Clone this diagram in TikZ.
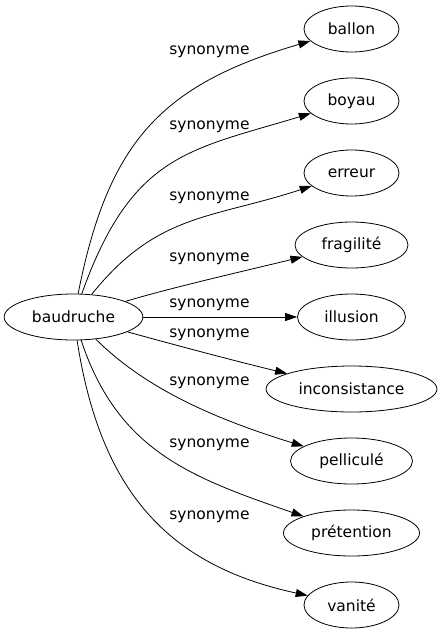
\documentclass[tikz,border=0pt]{standalone}
\usepackage{fontspec}
\setmainfont{DejaVu Sans}
\usetikzlibrary{shapes.geometric,arrows.meta}
\begin{document}
\begin{tikzpicture}[x=1pt,y=-1pt,
  mot/.style={draw,ellipse,line width=0.8pt,inner xsep=7.5pt,minimum width=95pt,minimum height=46pt,font=\fontsize{15.5}{18}\selectfont},
  lien/.style={draw,line width=0.8pt,-{Triangle[length=12pt,width=8pt]}},
  etiq/.style={inner sep=0pt,font=\fontsize{15.5}{18}\selectfont}]
  \useasboundingbox (0,0) rectangle (440,635);
          \node[mot] (baudruche) at (73.5,317) {baudruche};
          \node[mot] (ballon) at (351.5,29) {ballon};
          \node[mot] (boyau) at (351.5,101) {boyau};
          \node[mot] (erreur) at (351.5,173) {erreur};
          \node[mot,minimum width=113pt] (fragilite) at (351.5,245) {fragilité};
          \node[mot,minimum width=108pt] (illusion) at (351.5,317) {illusion};
          \node[mot] (inconsistance) at (351.5,389) {inconsistance};
          \node[mot,minimum width=122pt] (pellicule) at (351.5,461) {pelliculé};
          \node[mot,minimum width=136pt] (pretention) at (351.5,533) {prétention};
          \node[mot] (vanite) at (351.5,605) {vanité};

          \draw[lien] (baudruche) .. controls (108,143) and (160,85) .. (ballon);
          \draw[lien] (baudruche) .. controls (132,153) and (190,150) .. (boyau);
          \draw[lien] (baudruche) .. controls (157,213) and (211,219) .. (erreur);
          \draw[lien] (baudruche) .. controls (170,288) and (240,272) .. (fragilite);
          \draw[lien] (baudruche) -- (illusion);
          \draw[lien] (baudruche) .. controls (175,345) and (235,361) .. (inconsistance);
          \draw[lien] (baudruche) .. controls (146,389) and (215,419) .. (pellicule);
          \draw[lien] (baudruche) .. controls (118,452) and (193,478) .. (pretention);
          \draw[lien] (baudruche) .. controls (100.5,492) and (168.6,565.5) .. (vanite);

          \node[etiq] (syn1) at (209.5,52) {synonyme};
          \node[etiq] (syn2) at (209.5,127) {synonyme};
          \node[etiq] (syn3) at (209.5,198) {synonyme};
          \node[etiq] (syn4) at (209.5,259) {synonyme};
          \node[etiq] (syn5) at (209.5,305) {synonyme};
          \node[etiq] (syn6) at (209.5,335) {synonyme};
          \node[etiq] (syn7) at (209.5,383) {synonyme};
          \node[etiq] (syn8) at (209.5,445) {synonyme};
          \node[etiq] (syn9) at (209.5,517) {synonyme};
        \end{tikzpicture}
\end{document}
